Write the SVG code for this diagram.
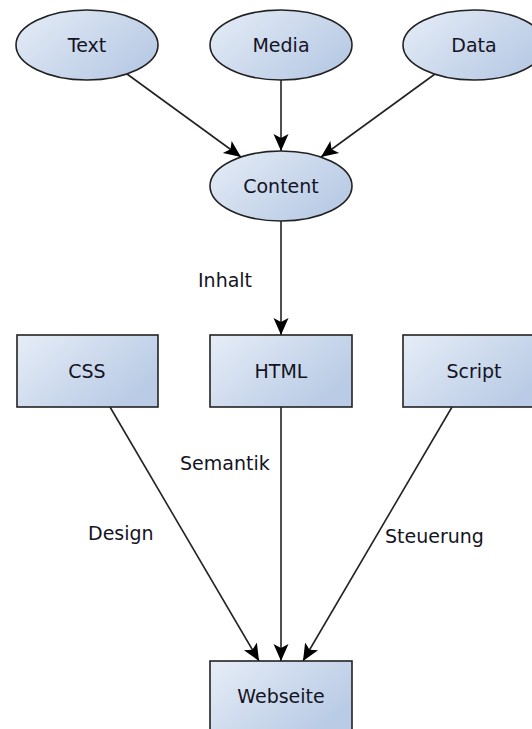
<svg xmlns="http://www.w3.org/2000/svg" width="532" height="729" viewBox="0 0 532 729">
<defs>
<linearGradient id="g" x1="0" y1="0" x2="1" y2="0.6">
<stop offset="0" stop-color="#e6edf7"/>
<stop offset="1" stop-color="#b9cbe5"/>
</linearGradient>
<marker id="ah" markerUnits="userSpaceOnUse" markerWidth="20" markerHeight="18" viewBox="0 -9 20 18" refX="17" refY="0" orient="auto">
<path d="M0,-7.5 L17,0 L0,7.5 L4,0 z" fill="#000"/>
</marker>
<style>
.n{fill:url(#g);stroke:#222;stroke-width:1.6}
.t{font-family:"DejaVu Sans",sans-serif;font-size:19px;fill:#141424;text-anchor:middle}
.l{font-family:"DejaVu Sans",sans-serif;font-size:19px;fill:#141424}
.c{stroke:#222;stroke-width:1.6;fill:none;marker-end:url(#ah)}
</style>
</defs>
<rect width="532" height="729" fill="#fff"/>
<g id="connectors">
<line class="c" x1="127" y1="74" x2="241" y2="157"/>
<line class="c" x1="281" y1="80" x2="281" y2="151"/>
<line class="c" x1="435" y1="74" x2="321" y2="157"/>
<line class="c" x1="281" y1="221" x2="281" y2="335"/>
<line class="c" x1="110" y1="407" x2="259" y2="661"/>
<line class="c" x1="281" y1="407" x2="281" y2="661"/>
<line class="c" x1="452" y1="407" x2="303" y2="661"/>
<text class="l" x="198" y="287">Inhalt</text>
<text class="l" x="180" y="470">Semantik</text>
<text class="l" x="88" y="540">Design</text>
<text class="l" x="385" y="543">Steuerung</text>
</g>
<g id="text"><ellipse class="n" cx="87" cy="45" rx="71" ry="35"/><text class="t" x="87" y="52">Text</text></g>
<g id="media"><ellipse class="n" cx="281" cy="45" rx="71" ry="35"/><text class="t" x="281" y="52">Media</text></g>
<g id="data"><ellipse class="n" cx="474" cy="45" rx="71" ry="35"/><text class="t" x="474" y="52">Data</text></g>
<g id="content"><ellipse class="n" cx="281" cy="186" rx="71" ry="35"/><text class="t" x="281" y="193">Content</text></g>
<g id="css"><rect class="n" x="17" y="335" width="141" height="72"/><text class="t" x="87" y="378">CSS</text></g>
<g id="html"><rect class="n" x="210" y="335" width="142" height="72"/><text class="t" x="281" y="378">HTML</text></g>
<g id="script"><rect class="n" x="403" y="335" width="142" height="72"/><text class="t" x="474" y="378">Script</text></g>
<g id="webseite"><rect class="n" x="210" y="661" width="142" height="72"/><text class="t" x="281" y="703">Webseite</text></g>
</svg>
